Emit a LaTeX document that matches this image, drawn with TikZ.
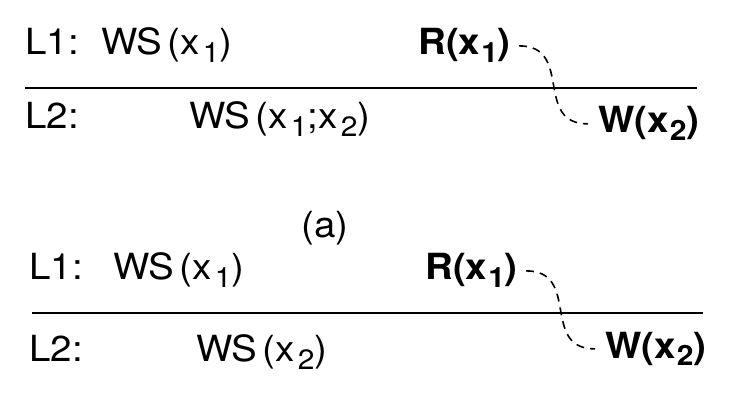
\documentclass[tikz,border=0pt]{standalone}
\usepackage{graphicx}
\usepackage{fontspec}
\setmainfont{TeX Gyre Heros}
\newcommand{\sbn}[1]{\kern3pt\raisebox{-8pt}{\fontsize{28}{28}\selectfont #1}}
\newcommand{\sbb}[1]{\kern1pt\raisebox{-8pt}{\fontsize{28}{28}\selectfont\bfseries #1}}
\newcommand{\wide}[1]{\scalebox{1.07}[1]{#1}}
\tikzset{
  txt/.style={anchor=base west, inner sep=0pt, font=\fontsize{36}{42}\selectfont},
  btxt/.style={txt, font=\fontsize{36}{42}\selectfont\bfseries},
  rule/.style={line width=1.8pt},
  dep/.style={line width=1.6pt, dash pattern=on 8pt off 6pt},
}
\begin{document}
\begin{tikzpicture}[x=1pt,y=-1pt]
\useasboundingbox (0,0) rectangle (739,403);
% top
\node[txt] (l1a) at (25,55) {\wide{L1:}};
\node[txt] (ws1a) at (101,55) {\wide{WS\kern5pt(x\sbn{1})}};
\node[btxt] (r1a) at (418,55) {\wide{R(x\sbb{1})}};
\coordinate (ra0) at (25,88);
\coordinate (ra1) at (697,88);
\draw[rule] (ra0) -- (ra1);
\node[txt] (l2a) at (25,129) {\wide{L2:}};
\node[txt] (ws2a) at (189,129) {\wide{WS\kern5pt(x\sbn{1};x\sbn{2})}};
\node[btxt] (w2a) at (598,133) {\wide{W(x\sbb{2})}};
\draw[dep] ([xshift=8pt]r1a.east) .. controls +(55,0) and +(-55,0) .. ([xshift=-10pt]w2a.west);
% caption
\node[txt, anchor=base] (cap) at (325,238) {\wide{(a)}};
% bottom
\node[txt] (l1b) at (29,280) {\wide{L1:}};
\node[txt] (ws1b) at (113,280) {\wide{WS\kern5pt(x\sbn{1})}};
\node[btxt] (r1b) at (425,280) {\wide{R(x\sbb{1})}};
\coordinate (rb0) at (32,313);
\coordinate (rb1) at (703,313);
\draw[rule] (rb0) -- (rb1);
\node[txt] (l2b) at (29,361) {\wide{L2:}};
\node[txt] (ws2b) at (196,361) {\wide{WS\kern5pt(x\sbn{2})}};
\node[btxt] (w2b) at (605,358) {\wide{W(x\sbb{2})}};
\draw[dep] ([xshift=8pt]r1b.east) .. controls +(55,0) and +(-55,0) .. ([xshift=-10pt]w2b.west);
\end{tikzpicture}
\end{document}
